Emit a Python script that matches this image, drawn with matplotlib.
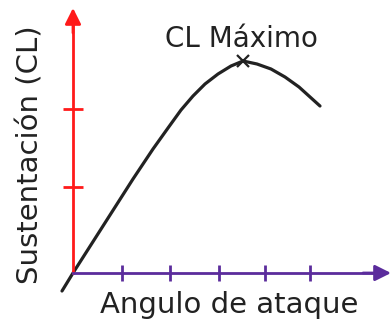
import matplotlib
matplotlib.use("Agg")
import matplotlib.pyplot as plt

# curve (x = angle, y = lift), pixel-like units
alpha = [-11, 0, 30, 60, 80, 95, 108, 120, 132, 145, 158, 170, 184, 198, 212, 226, 247]
cl = [-18, 0, 47, 94, 124, 145, 163, 177, 189, 199, 207, 212, 209, 204, 196, 186, 167]
cl_max = (170, 212)

x_ticks = [49, 97, 146, 192, 237]
y_ticks = [86, 164]

RED = "#ff1a1a"
PURPLE = "#5b2c9c"

fig = plt.figure(figsize=(3.91, 3.22), dpi=100)
ax = fig.add_axes([0, 0, 1, 1])
ax.set_xlim(-73, 318)
ax.set_ylim(-49, 273)

for s in ["top", "right"]:
    ax.spines[s].set_visible(False)
ax.spines["left"].set_position(("data", 0))
ax.spines["bottom"].set_position(("data", 0))
ax.spines["left"].set_color(RED)
ax.spines["left"].set_linewidth(2)
ax.spines["left"].set_bounds(0, 250)
ax.spines["bottom"].set_color(PURPLE)
ax.spines["bottom"].set_linewidth(2)
ax.spines["bottom"].set_bounds(0, 305)

ax.set_xticks(x_ticks)
ax.set_yticks(y_ticks)
ax.tick_params(axis="x", direction="inout", length=12, width=2, colors=PURPLE, labelbottom=False)
ax.tick_params(axis="y", direction="inout", length=14, width=2, colors=RED, labelleft=False)

# arrow heads
ax.annotate("", xy=(0, 265), xytext=(0, 240),
            arrowprops=dict(arrowstyle="-|>", color=RED, lw=2, mutation_scale=24,
                            shrinkA=0, shrinkB=0), annotation_clip=False)
ax.annotate("", xy=(318, 0), xytext=(290, 0),
            arrowprops=dict(arrowstyle="-|>", color=PURPLE, lw=2, mutation_scale=24,
                            shrinkA=0, shrinkB=0), annotation_clip=False)

ax.plot(alpha, cl, color="#222222", lw=2.3, solid_capstyle="round",
        solid_joinstyle="round", clip_on=False)
ax.plot(*cl_max, marker="x", color="#222222", ms=9, mew=1.6)

ax.text(168, 226, "CL Máximo", ha="center", va="baseline", fontsize=20, color="#222222")
ax.text(156, -40, "Angulo de ataque", ha="center", va="baseline", fontsize=21, color="#222222")
ax.text(-43, 118, "Sustentación (CL)", ha="center", va="center", rotation=90,
        fontsize=21, color="#222222")

fig.savefig("out.png", dpi=100)
